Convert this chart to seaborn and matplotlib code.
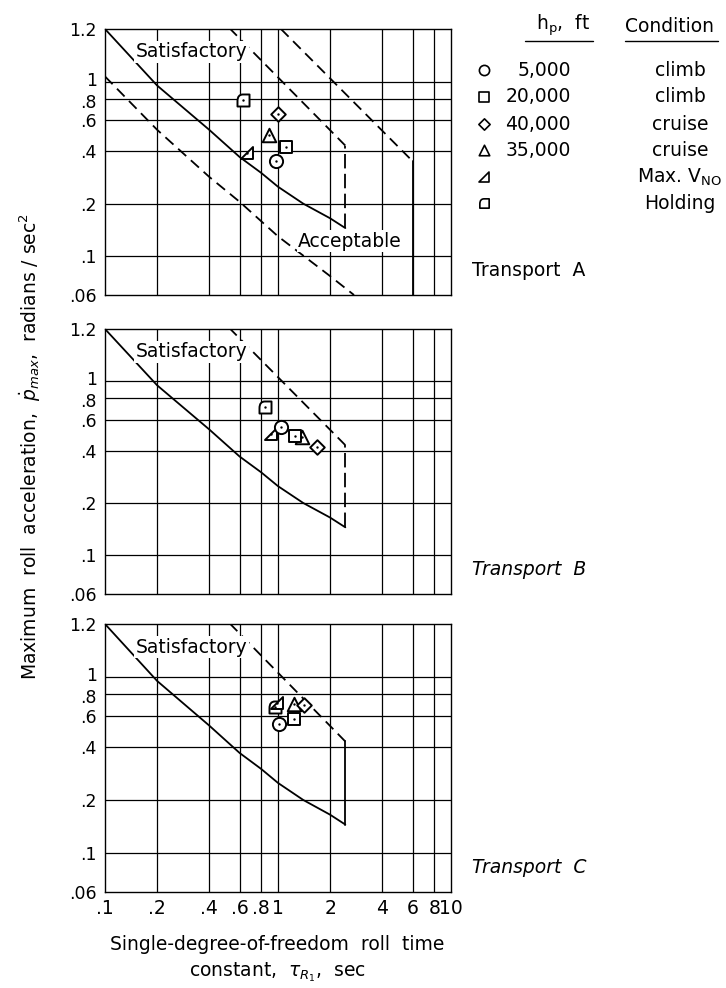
import numpy as np
import pandas as pd
import matplotlib
matplotlib.use("Agg")
import matplotlib.pyplot as plt
import matplotlib.transforms as mtransforms
from matplotlib.path import Path
from matplotlib.lines import Line2D
import seaborn as sns

# ---------------- data ----------------
symbols = ["circle", "square", "diamond", "triangle", "maxvno", "holding"]
altitudes = ["5,000", "20,000", "40,000", "35,000", "", ""]
conditions = ["climb", "climb", "cruise", "cruise", "Max. V$_\\mathregular{NO}$", "Holding"]

tau_A = [0.97, 1.118, 1.0, 0.889, 0.663, 0.629]
p_A = [0.351, 0.422, 0.656, 0.495, 0.392, 0.78]
tau_B = [1.046, 1.25, 1.69, 1.37, 0.916, 0.838]
p_B = [0.548, 0.487, 0.418, 0.481, 0.498, 0.711]
tau_C = [1.01, 1.24, 1.42, 1.232, 0.983, 0.966]
p_C = [0.543, 0.574, 0.690, 0.699, 0.708, 0.675]

# satisfactory boundary
sat_tau = [0.1, 0.2, 0.4, 0.6, 0.8, 1.0, 1.4, 2.0, 2.45]
sat_p = [2.0, 0.95, 0.53, 0.37, 0.30, 0.25, 0.20, 0.165, 0.145]
sat_edge_tau = [2.45, 2.45]
sat_edge_p = [0.145, 0.43]
sat_upper_tau = [2.45, 0.53]
sat_upper_p = [0.43, 2.0]
# acceptable boundary (Transport A only)
acc_upper_tau = [1.04, 6.0]
acc_upper_p = [2.0, 0.35]
acc_edge_tau = [6.0, 6.0]
acc_edge_p = [0.35, 0.06]
acc_lower_tau = [0.1, 0.2, 0.4, 0.6, 1.0, 2.0, 2.75]
acc_lower_p = [1.07, 0.53, 0.285, 0.205, 0.13, 0.077, 0.06]

x_ticks = [0.1, 0.2, 0.4, 0.6, 0.8, 1, 2, 4, 6, 8, 10]
x_labels = [".1", ".2", ".4", ".6", ".8", "1", "2", "4", "6", "8", "10"]
y_ticks = [0.06, 0.1, 0.2, 0.4, 0.6, 0.8, 1, 2]
y_labels = [".06", ".1", ".2", ".4", ".6", ".8", "1", "1.2"]

panels = [("Transport  A", tau_A, p_A, True),
          ("Transport  B", tau_B, p_B, False),
          ("Transport  C", tau_C, p_C, False)]

# ---------------- markers ----------------
maxvno_marker = Path([(-1, -1), (1, -1), (1, 1), (-1, -1)],
                     [Path.MOVETO, Path.LINETO, Path.LINETO, Path.CLOSEPOLY])
holding_marker = Path([(-1, -1), (1, -1), (1, 1), (-0.1, 1), (-1, 1), (-1, -0.1), (-1, -1), (-1, -1)],
                      [Path.MOVETO, Path.LINETO, Path.LINETO, Path.LINETO,
                       Path.CURVE3, Path.CURVE3, Path.LINETO, Path.CLOSEPOLY])
marker_map = {"circle": "o", "square": "s", "diamond": "D", "triangle": "^",
              "maxvno": maxvno_marker, "holding": holding_marker}
size_map = {"circle": 90, "square": 80, "diamond": 55, "triangle": 95,
            "maxvno": 75, "holding": 75}

sns.set_theme(style="white")
plt.rcParams["font.family"] = ["DejaVu Sans"]
plt.rcParams["mathtext.fontset"] = "dejavusans"
plt.rcParams["text.color"] = "black"
plt.rcParams["xtick.color"] = "black"
plt.rcParams["ytick.color"] = "black"
plt.rcParams["axes.labelcolor"] = "black"

fig = plt.figure(figsize=(7.26, 9.88), dpi=100)
W, H = 726.0, 988.0
ax_left, ax_right = 105, 451
ax_boxes = [(29, 295), (329, 594), (624, 892)]
FS = 13.5
YFS = 12.5
y_shift_px = {"1": 3, ".8": -2}

dash = (6, 3.5)
for (name, taus, ps, acceptable), (top, bot) in zip(panels, ax_boxes):
    ax = fig.add_axes([ax_left / W, 1 - bot / H, (ax_right - ax_left) / W, (bot - top) / H])
    ax.set_xscale("log")
    ax.set_yscale("log")
    ax.set_xlim(0.1, 10)
    ax.set_ylim(0.06, 2.0)
    for xv in x_ticks[1:-1]:
        ax.axvline(xv, color="black", lw=0.9, zorder=1)
    for yv in y_ticks[1:-1]:
        ax.axhline(yv, color="black", lw=0.9, zorder=1)
    for s in ax.spines.values():
        s.set_color("black")
        s.set_linewidth(1.0)

    ax.plot(sat_tau, sat_p, color="black", lw=1.3, zorder=2)
    if name.endswith("C"):
        ax.plot(sat_edge_tau, sat_edge_p, color="black", lw=1.3, zorder=2)
    else:
        ax.plot(sat_edge_tau, sat_edge_p, color="black", lw=1.3, dashes=(8, 3), zorder=2)
    ax.plot(sat_upper_tau, sat_upper_p, color="black", lw=1.3, dashes=dash, zorder=2)
    if acceptable:
        ax.plot(acc_upper_tau, acc_upper_p, color="black", lw=1.3, dashes=dash, zorder=2)
        ax.plot(acc_edge_tau, acc_edge_p, color="black", lw=1.3, zorder=2)
        ax.plot(acc_lower_tau, acc_lower_p, color="black", lw=1.3, dashes=dash, zorder=2)
        ax.text(1.31, 0.122, "Acceptable", fontsize=FS, ha="left", va="center",
                bbox=dict(facecolor="white", edgecolor="none", pad=1), zorder=3)
    ax.text(0.15, 1.48, "Satisfactory", fontsize=FS, ha="left", va="center",
            bbox=dict(facecolor="white", edgecolor="none", pad=1), zorder=3)

    df = pd.DataFrame({"tau": taus, "p": ps, "sym": symbols})
    order = ["holding", "maxvno", "triangle", "diamond", "square", "circle"]
    for k in order:
        sub = df[df["sym"] == k]
        sns.scatterplot(data=sub, x="tau", y="p", marker=marker_map[k], s=size_map[k],
                        facecolor="white", edgecolor="black", linewidth=1.4, ax=ax,
                        zorder=4, legend=False)
        sns.scatterplot(data=sub, x="tau", y="p", marker="o", s=3, color="black",
                        linewidth=0, ax=ax, zorder=5, legend=False)

    ax.set_xticks(x_ticks)
    ax.set_yticks(y_ticks)
    ax.set_yticklabels([])
    ax.minorticks_off()
    if name.endswith("C"):
        ax.set_xticklabels(x_labels, fontsize=FS)
    else:
        ax.set_xticklabels([])
    ax.tick_params(length=0, pad=5)
    ax.set_xlabel("")
    ax.set_ylabel("")
    # y tick labels as texts on the axis' own y scale
    blend = mtransforms.blended_transform_factory(ax.transAxes, ax.transData)
    for yv, lab in zip(y_ticks, y_labels):
        off = mtransforms.ScaledTranslation(-8 / 100, y_shift_px.get(lab, 0) / 100, fig.dpi_scale_trans)
        ax.text(0, yv, lab, fontsize=YFS, ha="right", va="center_baseline", transform=blend + off)
    fig.text(472 / W, 1 - (bot - 25) / H, name, fontsize=FS, ha="left", va="center",
             style="normal" if acceptable else "italic")

# axis labels
fig.text(30 / W, 1 - 447 / H,
         "Maximum  roll  acceleration,  $\\dot{p}_{max}$,  radians / sec$^2$",
         rotation=90, fontsize=FS, ha="center", va="center")
fig.text(277 / W, 1 - 945 / H, "Single-degree-of-freedom  roll  time",
         fontsize=FS, ha="center", va="center")
fig.text(277 / W, 1 - 972 / H, "constant,  $\\tau_{R_1}$,  sec",
         fontsize=FS, ha="center", va="center")

# legend block
fig.text(563 / W, 1 - 25 / H, "h$_\\mathregular{p}$,  ft", fontsize=FS, ha="center", va="center")
fig.text(670 / W, 1 - 27 / H, "Condition", fontsize=FS, ha="center", va="center")
fig.add_artist(Line2D([525 / W, 593 / W], [1 - 41 / H, 1 - 41 / H], color="black", lw=1.0))
fig.add_artist(Line2D([625 / W, 718 / W], [1 - 41 / H, 1 - 41 / H], color="black", lw=1.0))
row_y = [70, 97, 124, 150, 177, 203]
leg_ax = fig.add_axes([0, 0, 1, 1], facecolor="none")
leg_ax.set_xlim(0, W)
leg_ax.set_ylim(H, 0)
leg_ax.axis("off")
leg_df = pd.DataFrame({"x": [484] * 6, "y": row_y, "sym": symbols})
for k in symbols:
    sub = leg_df[leg_df["sym"] == k]
    sns.scatterplot(data=sub, x="x", y="y", marker=marker_map[k], s=size_map[k] * 0.6,
                    facecolor="white", edgecolor="black", linewidth=1.2, ax=leg_ax, legend=False)
leg_ax.set_xlabel("")
leg_ax.set_ylabel("")
for yv, alt, cond in zip(row_y, altitudes, conditions):
    leg_ax.text(571, yv, alt, fontsize=FS, ha="right", va="center")
    leg_ax.text(680, yv, cond, fontsize=FS, ha="center", va="center")

fig.savefig("out.png", dpi=100)
